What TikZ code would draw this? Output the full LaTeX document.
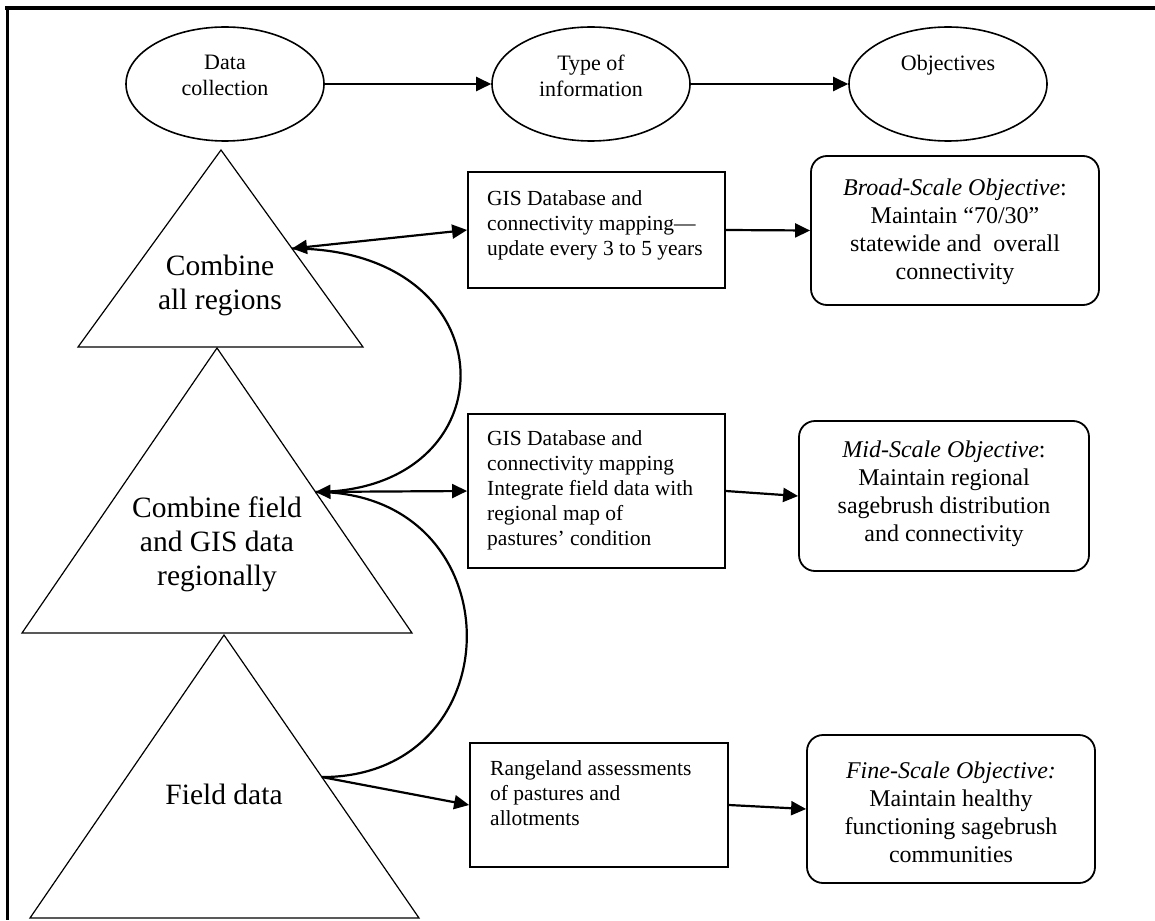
\documentclass[tikz,border=0pt]{standalone}
\usepackage{fontspec}
\setmainfont{Liberation Serif}
\usetikzlibrary{arrows.meta,calc,shapes.geometric}
\begin{document}
\begin{tikzpicture}[x=1pt,y=-1pt,
  ell/.style={draw,line width=1.6pt,ellipse,minimum width=198pt,minimum height=114pt,inner sep=0pt},
  sqbox/.style={draw,line width=1.8pt,rectangle,inner sep=0pt},
  rbox/.style={draw,line width=1.8pt,rectangle,rounded corners=16pt,inner sep=0pt},
  tri/.style={draw,line width=1.2pt,line join=miter},
  boxtxt/.style={inner sep=0pt,align=left,anchor=north west,font=\fontsize{21.5}{25}\selectfont},
  objtxt/.style={inner sep=0pt,align=center,anchor=north,font=\fontsize{24}{28}\selectfont},
  elltxt/.style={inner sep=0pt,align=center,anchor=north,font=\fontsize{22}{26}\selectfont},
  tritxt/.style={inner sep=0pt,align=center,anchor=north,font=\fontsize{29.5}{34}\selectfont},
  conn/.style={line width=2.2pt,-{Triangle[length=15pt,width=14pt]}},
  dconn/.style={line width=2.2pt,{Triangle[length=15pt,width=14pt]}-{Triangle[length=15pt,width=14pt]}},
  curve/.style={line width=2.2pt}
]
\useasboundingbox (0,0) rectangle (1155,920);
% frame (top and left only)
\coordinate (ftl) at (7,8);
\coordinate (ftr) at (1155,8);
\coordinate (fbl) at (7,920);
\draw[line width=4pt] (5,8) -- (ftr);
\draw[line width=3pt] (ftl) -- (fbl);

% header ellipses
\node[ell] (e1) at (225,84) {};
\node[ell] (e2) at (591,84) {};
\node[ell] (e3) at (948,84) {};
\node[elltxt] (e1t) at (225,55) {Data\\collection};
\node[elltxt] (e2t) at (591,55) {Type of\\information};
\node[elltxt] (e3t) at (948,55) {Objectives};
\draw[conn] (e1.east) -- (e2.west);
\draw[conn] (e2.east) -- (e3.west);

% triangles
\coordinate (t1a) at (221,150); \coordinate (t1l) at (78,347); \coordinate (t1r) at (363,347);
\coordinate (t2a) at (217,348); \coordinate (t2l) at (22,633); \coordinate (t2r) at (412,633);
\coordinate (t3a) at (224,635); \coordinate (t3l) at (30,918); \coordinate (t3r) at (419,918);
\draw[tri] (t1a) -- (t1l) -- (t1r) -- cycle;
\draw[tri] (t2a) -- (t2l) -- (t2r) -- cycle;
\draw[tri] (t3a) -- (t3l) -- (t3r) -- cycle;
\node[tritxt] (t1t) at (220,255) {Combine\\all regions};
\node[tritxt] (t2t) at (217,497) {Combine field\\and GIS data\\regionally};
\node[tritxt] (t3t) at (224,784) {Field data};
\coordinate (p1) at ($(t1a)!0.5!(t1r)$);
\coordinate (p2) at ($(t2a)!0.505!(t2r)$);
\coordinate (p3) at ($(t3a)!0.502!(t3r)$);

% information boxes
\node[sqbox,minimum width=257pt,minimum height=116pt] (b1) at (596.5,230) {};
\node[sqbox,minimum width=257pt,minimum height=154pt] (b2) at (596.5,491) {};
\node[sqbox,minimum width=258pt,minimum height=124pt] (b3) at (599,805) {};
\node[boxtxt] (b1t) at (487,190) {GIS Database and\\connectivity mapping---\\update every 3 to 5 years};
\node[boxtxt] (b2t) at (487,430) {GIS Database and\\connectivity mapping\\Integrate field data with\\regional map of\\pastures’ condition};
\node[boxtxt] (b3t) at (490,760) {Rangeland assessments\\of pastures and\\allotments};

% objective boxes
\node[rbox,minimum width=288pt,minimum height=149pt] (r1) at (955,230.5) {};
\node[rbox,minimum width=290pt,minimum height=150pt] (r2) at (944,496) {};
\node[rbox,minimum width=288pt,minimum height=148pt] (r3) at (951,809) {};
\node[objtxt] (r1t) at (955,179) {\textit{Broad-Scale Objective}:\\Maintain “70/30”\\statewide and\ \ overall\\connectivity};
\node[objtxt] (r2t) at (944,441) {\textit{Mid-Scale Objective}:\\Maintain regional\\sagebrush distribution\\and connectivity};
\node[objtxt] (r3t) at (951,762) {\textit{Fine-Scale Objective:}\\Maintain healthy\\functioning sagebrush\\communities};

% connectors
\draw[dconn] (p1) -- (b1.west);
\draw[dconn] (p2) -- (b2.west);
\draw[conn] (p3) -- (b3.west);
\draw[curve] (p1) .. controls ($(p1)+(221,0)$) and ($(p2)+(197,0)$) .. (p2);
\draw[curve] (p2) .. controls ($(p2)+(201,0)$) and ($(p3)+(194,0)$) .. (p3);
\draw[conn] (b1.east) -- (r1.west);
\draw[conn] (b2.east) -- (r2.west);
\draw[conn] (b3.east) -- (r3.west);
\end{tikzpicture}
\end{document}
